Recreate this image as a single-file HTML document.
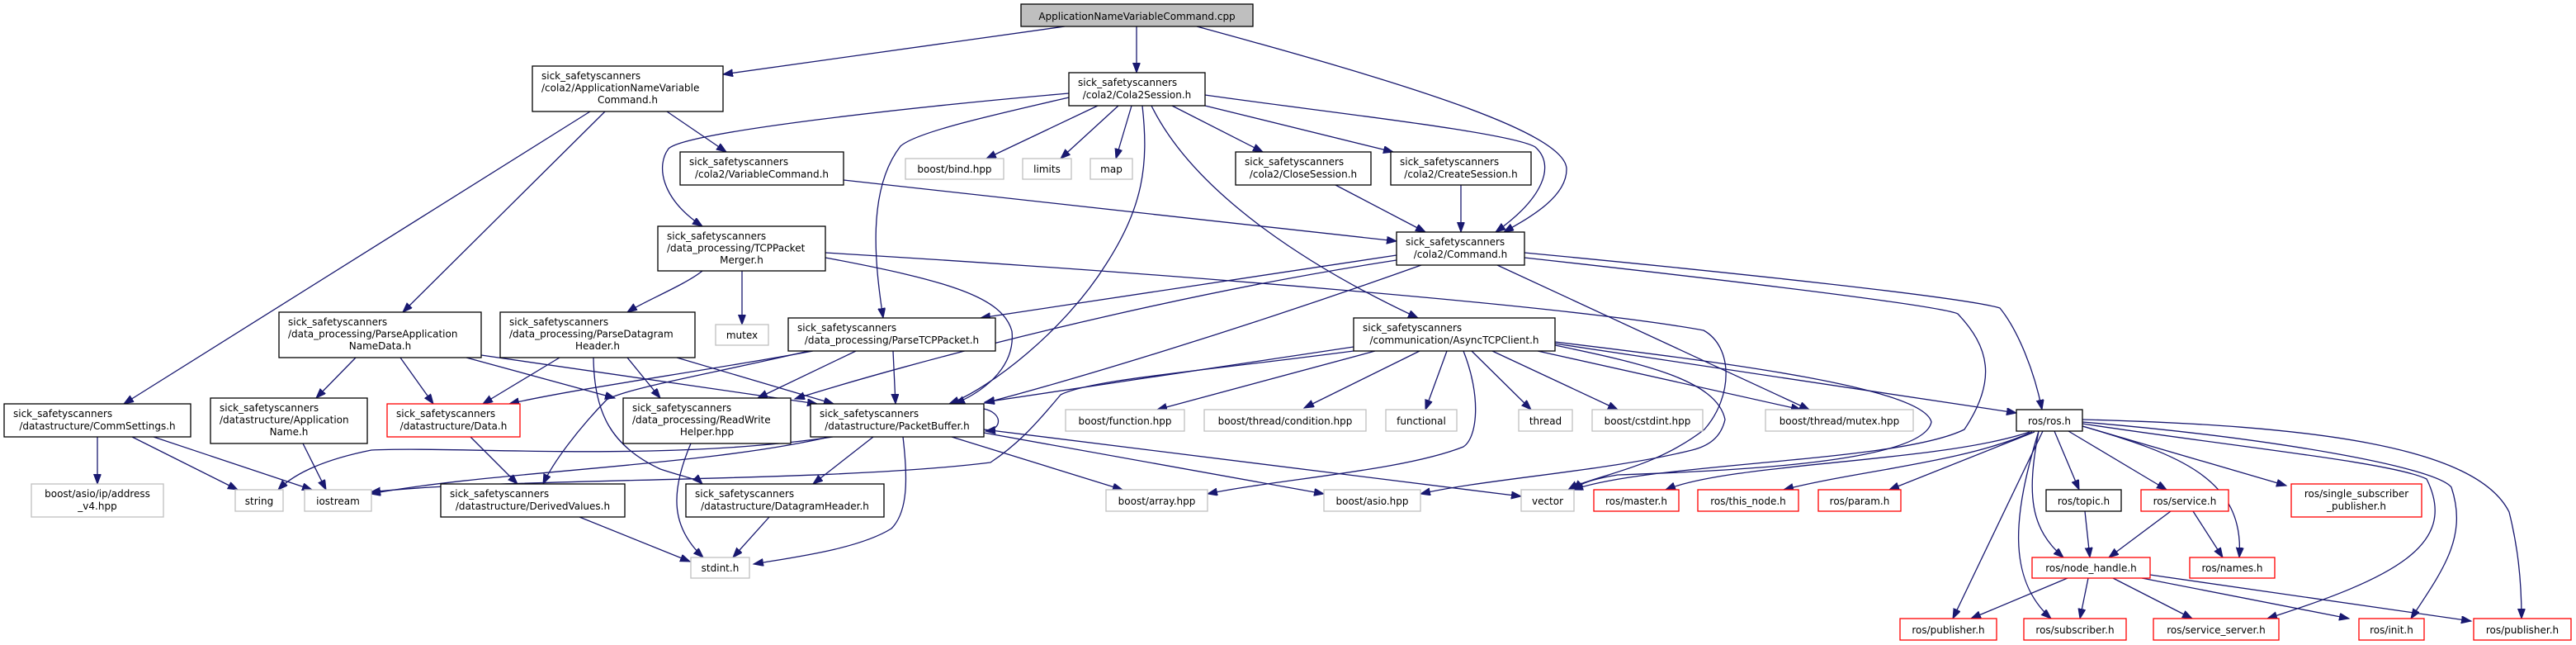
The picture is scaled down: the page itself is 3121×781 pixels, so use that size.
<!DOCTYPE html>
<html><head><meta charset="utf-8"><style>
html,body{margin:0;padding:0;background:#fff;}
svg{display:block;}
text{font-family:"DejaVu Sans","Liberation Sans",sans-serif;font-size:12px;fill:#000;}
.e{fill:none;stroke:#191970;stroke-width:1.3;marker-end:url(#a);}
.n{fill:#fff;stroke:#000;stroke-width:1.3;}
.g{fill:#fff;stroke:#bfbfbf;stroke-width:1.3;}
.r{fill:#fff;stroke:#ff0000;stroke-width:1.3;}
</style></head><body>
<svg width="3121" height="781" viewBox="0 0 3121 781" xmlns="http://www.w3.org/2000/svg">
<defs><marker id="a" markerWidth="14" markerHeight="10" refX="12" refY="4.5" orient="auto" markerUnits="userSpaceOnUse"><path d="M0,0L12,4.5L0,9z" fill="#191970" stroke="#191970"/></marker></defs>

<!-- edges -->
<path class="e" d="M1290,32 L876,90"/>
<path class="e" d="M1377,32 L1377,88"/>
<path class="e" d="M1450,32 C1700,100 1898,160 1898,205 C1898,240 1850,265 1822,281"/>
<path class="e" d="M808,135 L880,184"/>
<path class="e" d="M733,135 L488,378"/>
<path class="e" d="M715,135 L150,489"/>
<path class="e" d="M1295,113 C1100,130 830,160 810,180 C795,200 800,240 851,274"/>
<path class="e" d="M1295,118 C1200,140 1110,160 1091,177 C1050,230 1060,320 1070,385"/>
<path class="e" d="M1330,128 L1195,192"/>
<path class="e" d="M1355,128 L1285,192"/>
<path class="e" d="M1371,128 L1352,192"/>
<path class="e" d="M1384,128 C1392,200 1385,250 1340,320 C1290,400 1200,470 1150,489"/>
<path class="e" d="M1395,128 C1450,240 1600,330 1718,385"/>
<path class="e" d="M1420,128 L1530,184"/>
<path class="e" d="M1460,128 L1688,184"/>
<path class="e" d="M1460,115 C1600,135 1830,160 1860,178 C1885,200 1870,240 1812,281"/>
<path class="e" d="M1022,218 L1692,292"/>
<path class="e" d="M1618,224 L1727,281"/>
<path class="e" d="M1770,224 L1770,281"/>
<path class="e" d="M851,328 C830,345 780,365 760,378"/>
<path class="e" d="M899,328 L899,393"/>
<path class="e" d="M1000,312 C1150,340 1215,360 1226,401 C1230,440 1200,470 1157,489"/>
<path class="e" d="M1000,306 C1400,330 1900,370 2064,400 C2100,420 2100,480 2065,520 C2000,570 1930,575 1900,593"/>
<path class="e" d="M1692,309 L1188,385"/>
<path class="e" d="M1692,315 C1400,360 1100,440 963,483"/>
<path class="e" d="M1722,321 C1500,400 1300,460 1193,488"/>
<path class="e" d="M1847,306 C2100,330 2380,360 2423,373 C2445,400 2465,450 2474,496"/>
<path class="e" d="M1847,312 C2100,340 2350,370 2372,380 C2410,420 2420,460 2380,520 C2300,560 2000,560 1906,593"/>
<path class="e" d="M1814,321 L2192,496"/>
<path class="e" d="M431,433 L383,482"/>
<path class="e" d="M485,433 L525,489"/>
<path class="e" d="M565,433 L745,482"/>
<path class="e" d="M583,430 L990,489"/>
<path class="e" d="M678,433 L585,489"/>
<path class="e" d="M760,433 L800,482"/>
<path class="e" d="M719,433 C720,500 740,540 800,568 C830,578 845,580 851,586"/>
<path class="e" d="M820,433 L1010,489"/>
<path class="e" d="M985,425 C850,450 700,470 617,489"/>
<path class="e" d="M980,425 C850,455 760,470 735,484 C700,520 670,560 658,586"/>
<path class="e" d="M1037,425 L918,482"/>
<path class="e" d="M1082,425 L1085,489"/>
<path class="e" d="M570,529 L627,586"/>
<path class="e" d="M367,537 L395,593"/>
<path class="e" d="M118,529 L118,586"/>
<path class="e" d="M160,529 L288,593"/>
<path class="e" d="M186,529 L378,593"/>
<path class="e" d="M702,626 L836,680"/>
<path class="e" d="M837,537 C810,600 815,640 852,675"/>
<path class="e" d="M932,626 L888,675"/>
<path class="e" d="M1058,529 L985,586"/>
<path class="e" d="M1094,529 C1100,580 1100,620 1080,640 C1040,665 960,675 913,683"/>
<path class="e" d="M1192,495 C1215,500 1215,520 1194,522"/>
<path class="e" d="M1153,529 L1360,593"/>
<path class="e" d="M1192,524 L1604,598"/>
<path class="e" d="M1192,520 L1843,601"/>
<path class="e" d="M1009,529 C800,560 560,540 450,545 C400,555 360,570 337,593"/>
<path class="e" d="M1005,529 C850,565 600,570 449,598"/>
<path class="e" d="M1640,420 L1193,487"/>
<path class="e" d="M1640,425 C1450,450 1320,460 1285,478 C1250,520 1230,540 1200,560 C1000,585 600,578 449,596"/>
<path class="e" d="M1666,425 L1402,496"/>
<path class="e" d="M1720,425 L1580,494"/>
<path class="e" d="M1753,425 L1727,496"/>
<path class="e" d="M1773,425 C1795,480 1790,530 1773,541 C1700,570 1550,580 1463,598"/>
<path class="e" d="M1783,425 L1855,496"/>
<path class="e" d="M1808,425 L1960,496"/>
<path class="e" d="M1863,425 L2182,496"/>
<path class="e" d="M1884,418 C1990,440 2080,460 2090,508 C2085,530 2070,540 2050,545 C1950,570 1800,580 1721,598"/>
<path class="e" d="M1884,414 C2100,440 2330,470 2340,511 C2330,560 2100,570 1960,575 C1930,580 1915,585 1906,593"/>
<path class="e" d="M1884,416 L2443,500"/>
<path class="e" d="M2459,523 C2350,560 2100,560 2018,593"/>
<path class="e" d="M2462,523 C2380,560 2250,570 2161,593"/>
<path class="e" d="M2465,523 L2289,593"/>
<path class="e" d="M2489,522 L2519,593"/>
<path class="e" d="M2506,522 L2625,593"/>
<path class="e" d="M2523,516 C2640,550 2720,580 2713,675"/>
<path class="e" d="M2523,516 L2770,588"/>
<path class="e" d="M2470,522 C2455,600 2460,640 2500,675"/>
<path class="e" d="M2475,522 L2366,749"/>
<path class="e" d="M2470,522 C2440,620 2430,700 2485,749"/>
<path class="e" d="M2523,513 C2700,540 2900,560 2940,580 C2980,660 2900,700 2747,749"/>
<path class="e" d="M2523,511 C2750,530 2950,565 2970,590 C2990,650 2960,690 2921,749"/>
<path class="e" d="M2523,508 C2800,515 3000,540 3040,620 C3050,660 3055,700 3055,749"/>
<path class="e" d="M2526,619 L2532,675"/>
<path class="e" d="M2630,619 L2555,675"/>
<path class="e" d="M2657,619 L2693,675"/>
<path class="e" d="M2505,700 L2388,749"/>
<path class="e" d="M2530,700 L2520,749"/>
<path class="e" d="M2560,700 L2656,749"/>
<path class="e" d="M2595,700 L2846,749"/>
<path class="e" d="M2605,696 L2994,752"/>

<!-- nodes -->
<rect x="1237" y="5" width="281" height="27" fill="#bfbfbf" stroke="#000" stroke-width="1.3"/>
<text x="1377.5" y="24" text-anchor="middle">ApplicationNameVariableCommand.cpp</text>

<rect class="n" x="645" y="80" width="231" height="55"/>
<text x="656" y="96">sick_safetyscanners</text><text x="656" y="110.5">/cola2/ApplicationNameVariable</text><text x="760.5" y="125" text-anchor="middle">Command.h</text>

<rect class="n" x="1295" y="88" width="165" height="40"/>
<text x="1306" y="104">sick_safetyscanners</text><text x="1377.5" y="119" text-anchor="middle">/cola2/Cola2Session.h</text>

<rect class="n" x="824" y="184" width="198" height="40"/>
<text x="835" y="200">sick_safetyscanners</text><text x="923" y="215" text-anchor="middle">/cola2/VariableCommand.h</text>

<rect class="g" x="1097" y="192" width="119" height="25"/><text x="1156.5" y="209" text-anchor="middle">boost/bind.hpp</text>
<rect class="g" x="1239" y="192" width="59" height="25"/><text x="1268.5" y="209" text-anchor="middle">limits</text>
<rect class="g" x="1321" y="192" width="51" height="25"/><text x="1346.5" y="209" text-anchor="middle">map</text>

<rect class="n" x="1497" y="184" width="164" height="40"/>
<text x="1508" y="200">sick_safetyscanners</text><text x="1579" y="215" text-anchor="middle">/cola2/CloseSession.h</text>

<rect class="n" x="1685" y="184" width="170" height="40"/>
<text x="1696" y="200">sick_safetyscanners</text><text x="1770" y="215" text-anchor="middle">/cola2/CreateSession.h</text>

<rect class="n" x="1692" y="281" width="155" height="40"/>
<text x="1703" y="297">sick_safetyscanners</text><text x="1769.5" y="312" text-anchor="middle">/cola2/Command.h</text>

<rect class="n" x="797" y="274" width="203" height="54"/>
<text x="808" y="290">sick_safetyscanners</text><text x="808" y="304.5">/data_processing/TCPPacket</text><text x="898.5" y="319" text-anchor="middle">Merger.h</text>

<rect class="g" x="867" y="393" width="64" height="25"/><text x="899" y="410" text-anchor="middle">mutex</text>

<rect class="n" x="955" y="385" width="251" height="40"/>
<text x="966" y="401">sick_safetyscanners</text><text x="1080.5" y="416" text-anchor="middle">/data_processing/ParseTCPPacket.h</text>

<rect class="n" x="1640" y="385" width="244" height="40"/>
<text x="1651" y="401">sick_safetyscanners</text><text x="1762" y="416" text-anchor="middle">/communication/AsyncTCPClient.h</text>

<rect class="n" x="338" y="378" width="245" height="55"/>
<text x="349" y="394">sick_safetyscanners</text><text x="349" y="408.5">/data_processing/ParseApplication</text><text x="460.5" y="423" text-anchor="middle">NameData.h</text>

<rect class="n" x="606" y="378" width="236" height="55"/>
<text x="617" y="394">sick_safetyscanners</text><text x="617" y="408.5">/data_processing/ParseDatagram</text><text x="724" y="423" text-anchor="middle">Header.h</text>

<rect class="n" x="5" y="489" width="226" height="40"/>
<text x="16" y="505">sick_safetyscanners</text><text x="118" y="520" text-anchor="middle">/datastructure/CommSettings.h</text>

<rect class="n" x="255" y="482" width="190" height="55"/>
<text x="266" y="498">sick_safetyscanners</text><text x="266" y="512.5">/datastructure/Application</text><text x="350" y="527" text-anchor="middle">Name.h</text>

<rect class="r" x="469" y="489" width="161" height="40"/>
<text x="480" y="505">sick_safetyscanners</text><text x="549.5" y="520" text-anchor="middle">/datastructure/Data.h</text>

<rect class="n" x="755" y="482" width="203" height="55"/>
<text x="766" y="498">sick_safetyscanners</text><text x="766" y="512.5">/data_processing/ReadWrite</text><text x="856.5" y="527" text-anchor="middle">Helper.hpp</text>

<rect class="n" x="982" y="489" width="210" height="40"/>
<text x="993" y="505">sick_safetyscanners</text><text x="1087" y="520" text-anchor="middle">/datastructure/PacketBuffer.h</text>

<rect class="g" x="1291" y="496" width="144" height="26"/><text x="1363" y="514" text-anchor="middle">boost/function.hpp</text>
<rect class="g" x="1459" y="496" width="196" height="26"/><text x="1557" y="514" text-anchor="middle">boost/thread/condition.hpp</text>
<rect class="g" x="1679" y="496" width="86" height="26"/><text x="1722" y="514" text-anchor="middle">functional</text>
<rect class="g" x="1840" y="496" width="65" height="26"/><text x="1872.5" y="514" text-anchor="middle">thread</text>
<rect class="g" x="1929" y="496" width="134" height="26"/><text x="1996" y="514" text-anchor="middle">boost/cstdint.hpp</text>
<rect class="g" x="2139" y="496" width="179" height="26"/><text x="2228.5" y="514" text-anchor="middle">boost/thread/mutex.hpp</text>
<rect class="n" x="2443" y="496" width="80" height="26"/><text x="2483" y="514" text-anchor="middle">ros/ros.h</text>

<rect class="g" x="38" y="586" width="160" height="40"/>
<text x="118" y="602" text-anchor="middle">boost/asio/ip/address</text><text x="118" y="617" text-anchor="middle">_v4.hpp</text>
<rect class="g" x="285" y="593" width="58" height="26"/><text x="314" y="611" text-anchor="middle">string</text>
<rect class="g" x="369" y="593" width="81" height="26"/><text x="409.5" y="611" text-anchor="middle">iostream</text>

<rect class="n" x="534" y="586" width="223" height="40"/>
<text x="545" y="602">sick_safetyscanners</text><text x="645.5" y="617" text-anchor="middle">/datastructure/DerivedValues.h</text>

<rect class="n" x="831" y="586" width="240" height="40"/>
<text x="842" y="602">sick_safetyscanners</text><text x="951" y="617" text-anchor="middle">/datastructure/DatagramHeader.h</text>

<rect class="g" x="1340" y="593" width="123" height="26"/><text x="1401.5" y="611" text-anchor="middle">boost/array.hpp</text>
<rect class="g" x="1604" y="593" width="117" height="26"/><text x="1662.5" y="611" text-anchor="middle">boost/asio.hpp</text>
<rect class="g" x="1843" y="593" width="64" height="26"/><text x="1875" y="611" text-anchor="middle">vector</text>
<rect class="r" x="1931" y="593" width="103" height="26"/><text x="1982.5" y="611" text-anchor="middle">ros/master.h</text>
<rect class="r" x="2057" y="593" width="122" height="26"/><text x="2118" y="611" text-anchor="middle">ros/this_node.h</text>
<rect class="r" x="2203" y="593" width="100" height="26"/><text x="2253" y="611" text-anchor="middle">ros/param.h</text>
<rect class="n" x="2479" y="593" width="91" height="26"/><text x="2524.5" y="611" text-anchor="middle">ros/topic.h</text>
<rect class="r" x="2594" y="593" width="106" height="26"/><text x="2647" y="611" text-anchor="middle">ros/service.h</text>
<rect class="r" x="2776" y="586" width="158" height="40"/>
<text x="2855" y="602" text-anchor="middle">ros/single_subscriber</text><text x="2855" y="617" text-anchor="middle">_publisher.h</text>

<rect class="g" x="837" y="675" width="71" height="25"/><text x="872.5" y="692" text-anchor="middle">stdint.h</text>
<rect class="r" x="2462" y="675" width="143" height="25"/><text x="2533.5" y="692" text-anchor="middle">ros/node_handle.h</text>
<rect class="r" x="2653" y="675" width="103" height="25"/><text x="2704.5" y="692" text-anchor="middle">ros/names.h</text>

<rect class="r" x="2302" y="749" width="117" height="26"/><text x="2360.5" y="767" text-anchor="middle">ros/publisher.h</text>
<rect class="r" x="2452" y="749" width="124" height="26"/><text x="2514" y="767" text-anchor="middle">ros/subscriber.h</text>
<rect class="r" x="2609" y="749" width="152" height="26"/><text x="2685" y="767" text-anchor="middle">ros/service_server.h</text>
<rect class="r" x="2858" y="749" width="79" height="26"/><text x="2897.5" y="767" text-anchor="middle">ros/init.h</text>
<rect class="r" x="2997" y="749" width="118" height="26"/><text x="3056" y="767" text-anchor="middle">ros/publisher.h</text>
</svg>
</body></html>
